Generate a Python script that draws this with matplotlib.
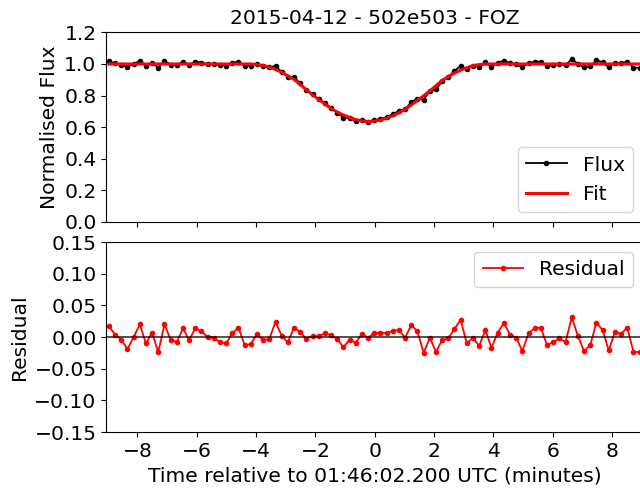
import matplotlib
matplotlib.use("Agg")
import matplotlib.pyplot as plt

title = "2015-04-12 - 502e503 - FOZ"
xlabel = "Time relative to 01:46:02.200 UTC (minutes)"

time_min = [-8.960, -8.752, -8.544, -8.336, -8.128, -7.920, -7.712, -7.504, -7.296, -7.088,
            -6.880, -6.672, -6.464, -6.256, -6.048, -5.840, -5.632, -5.424, -5.216, -5.008,
            -4.800, -4.592, -4.384, -4.176, -3.968, -3.760, -3.552, -3.344, -3.136, -2.928,
            -2.720, -2.512, -2.304, -2.096, -1.888, -1.680, -1.472, -1.264, -1.056, -0.848,
            -0.640, -0.432, -0.224, -0.016, 0.192, 0.400, 0.608, 0.816, 1.024, 1.232,
            1.440, 1.648, 1.856, 2.064, 2.272, 2.480, 2.688, 2.896, 3.104, 3.312,
            3.520, 3.728, 3.936, 4.144, 4.352, 4.560, 4.768, 4.976, 5.184, 5.392,
            5.600, 5.808, 6.016, 6.224, 6.432, 6.640, 6.848, 7.056, 7.264, 7.472,
            7.680, 7.888, 8.096, 8.304, 8.512, 8.720, 8.928]

flux = [1.017, 1.004, 0.996, 0.981, 1.000, 1.020, 0.990, 1.007, 0.976, 1.020,
        0.996, 0.992, 1.014, 0.995, 1.014, 1.009, 1.000, 0.999, 0.992, 0.990,
        1.006, 1.015, 0.987, 0.989, 1.001, 0.986, 0.978, 0.989, 0.950, 0.917,
        0.917, 0.878, 0.834, 0.807, 0.777, 0.753, 0.721, 0.692, 0.661, 0.658,
        0.639, 0.645, 0.635, 0.644, 0.652, 0.663, 0.683, 0.702, 0.712, 0.759,
        0.779, 0.774, 0.828, 0.839, 0.891, 0.918, 0.956, 0.988, 0.966, 0.989,
        0.982, 1.010, 0.983, 1.007, 1.022, 1.004, 0.999, 0.978, 1.006, 1.014,
        1.015, 0.987, 0.992, 0.998, 0.992, 1.031, 1.002, 0.978, 0.987, 1.023,
        1.011, 0.979, 1.008, 1.005, 1.015, 0.977, 0.976]

fit = [1.000, 1.000, 1.000, 1.000, 1.000, 1.000, 1.000, 1.000, 1.000, 1.000,
       1.000, 1.000, 1.000, 1.000, 1.000, 1.000, 1.000, 1.000, 1.000, 1.000,
       1.000, 1.000, 1.000, 1.000, 0.996, 0.991, 0.981, 0.965, 0.948, 0.925,
       0.902, 0.870, 0.837, 0.805, 0.776, 0.747, 0.718, 0.695, 0.677, 0.662,
       0.648, 0.640, 0.636, 0.638, 0.645, 0.657, 0.673, 0.691, 0.713, 0.740,
       0.770, 0.799, 0.829, 0.862, 0.896, 0.920, 0.943, 0.961, 0.976, 0.990,
       0.996, 0.999, 1.000, 1.000, 1.000, 1.000, 1.000, 1.000, 1.000, 1.000,
       1.000, 1.000, 1.000, 1.000, 1.000, 1.000, 1.000, 1.000, 1.000, 1.000,
       1.000, 1.000, 1.000, 1.000, 1.000, 1.000, 1.000]

residual = [0.017, 0.004, -0.004, -0.019, 0.000, 0.020, -0.010, 0.007, -0.024, 0.020,
            -0.004, -0.008, 0.014, -0.005, 0.014, 0.009, 0.000, -0.001, -0.008, -0.010,
            0.006, 0.015, -0.013, -0.011, 0.005, -0.005, -0.003, 0.024, 0.002, -0.008,
            0.015, 0.008, -0.003, 0.002, 0.001, 0.006, 0.003, -0.003, -0.016, -0.004,
            -0.009, 0.005, -0.001, 0.006, 0.007, 0.006, 0.010, 0.011, -0.001, 0.019,
            0.009, -0.025, -0.001, -0.023, -0.005, -0.002, 0.013, 0.027, -0.010, -0.001,
            -0.014, 0.011, -0.017, 0.007, 0.022, 0.004, -0.001, -0.022, 0.006, 0.014,
            0.015, -0.013, -0.008, -0.002, -0.008, 0.031, 0.002, -0.022, -0.013, 0.023,
            0.011, -0.021, 0.008, 0.005, 0.015, -0.023, -0.024]

xticks = [-8, -6, -4, -2, 0, 2, 4, 6, 8]

FS = 14.6
plt.rcParams['font.size'] = FS

fig = plt.figure(figsize=(6.4, 4.91), dpi=100)
ax1 = fig.add_axes([0.166, 0.548, 0.839, 0.386])
ax2 = fig.add_axes([0.166, 0.120, 0.839, 0.387], sharex=ax1)

ax1.plot(time_min, flux, 'k.-', lw=1.3, ms=6, label='Flux')
ax1.plot(time_min, fit, 'r-', lw=2.2, label='Fit')
ax1.set_ylim(0.0, 1.2)
ax1.set_yticks([0.0, 0.2, 0.4, 0.6, 0.8, 1.0, 1.2])
ax1.set_ylabel('Normalised Flux')
ax1.set_title(title, fontsize=FS)
ax1.legend(loc='lower right', fontsize=FS)
plt.setp(ax1.get_xticklabels(), visible=False)

ax2.plot(time_min, residual, 'r.-', lw=1.3, ms=6, label='Residual')
ax2.axhline(0.0, color='k', lw=1.2, alpha=0.8)
ax2.set_ylim(-0.15, 0.15)
ax2.set_yticks([-0.15, -0.10, -0.05, 0.0, 0.05, 0.10, 0.15])
ax2.set_ylabel('Residual')
ax2.set_xlabel(xlabel)
ax2.legend(loc='upper right', fontsize=FS)
ax2.set_xticks(xticks)
ax2.set_xlim(-9.05, 9.05)

fig.savefig('out.png', dpi=100)
